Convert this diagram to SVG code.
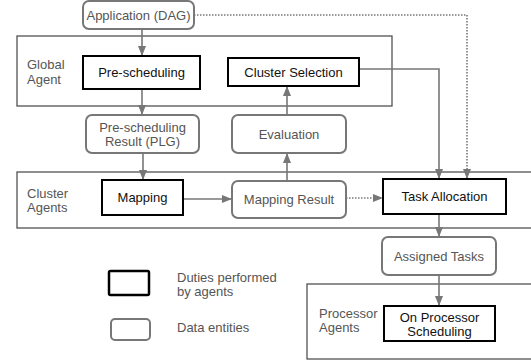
<svg xmlns="http://www.w3.org/2000/svg" width="531" height="360" viewBox="0 0 531 360">
  <style>
    text { font-family: "Liberation Sans", Arial, sans-serif; font-size: 13px; }
    .duty { fill: #fff; stroke: #000; stroke-width: 2; }
    .data { fill: #fff; stroke: #777; stroke-width: 2; }
    .zone { fill: #fff; stroke: #444; stroke-width: 1.2; }
    .dark { fill: #111; text-anchor: middle; }
    .grey { fill: #555; text-anchor: middle; }
    .lbl { fill: #555; }
    .link { fill: none; stroke: #777; stroke-width: 1.6; }
    .dot { fill: none; stroke: #777; stroke-width: 1.6; stroke-dasharray: 1.5 1.5; }
  </style>
  <defs>
    <marker id="head" markerUnits="userSpaceOnUse" markerWidth="10" markerHeight="8" refX="10" refY="4" orient="auto">
      <path d="M0,0 L10,4 L0,8 z" fill="#777"/>
    </marker>
  </defs>

  <rect width="531" height="360" fill="#fff"/>

  <!-- agent layers -->
  <g id="global-agent">
    <rect class="zone" x="17" y="36" width="375" height="70"/>
    <text class="lbl" x="27" y="69">Global</text>
    <text class="lbl" x="27" y="84">Agent</text>
  </g>
  <g id="cluster-agents">
    <rect class="zone" x="17" y="172" width="530" height="56"/>
    <text class="lbl" x="27" y="198">Cluster</text>
    <text class="lbl" x="27" y="212">Agents</text>
  </g>
  <g id="processor-agents">
    <rect class="zone" x="307" y="284" width="240" height="75"/>
    <text class="lbl" x="319" y="318">Processor</text>
    <text class="lbl" x="319" y="332">Agents</text>
  </g>

  <!-- connectors -->
  <g id="connectors">
    <line class="link" x1="142" y1="29" x2="142" y2="56" marker-end="url(#head)"/>
    <line class="link" x1="142" y1="89" x2="142" y2="115" marker-end="url(#head)"/>
    <line class="link" x1="143" y1="153" x2="143" y2="180" marker-end="url(#head)"/>
    <line class="link" x1="183" y1="199" x2="232" y2="199" marker-end="url(#head)"/>
    <line class="link" x1="287" y1="181" x2="287" y2="153" marker-end="url(#head)"/>
    <line class="link" x1="287" y1="115" x2="287" y2="86" marker-end="url(#head)"/>
    <line class="dot" x1="346" y1="198" x2="383" y2="198" marker-end="url(#head)"/>
    <polyline class="link" points="359,69 439,69 439,179" marker-end="url(#head)"/>
    <polyline class="dot" points="194,15 467,15 467,179" marker-end="url(#head)"/>
    <line class="link" x1="439" y1="214" x2="439" y2="237" marker-end="url(#head)"/>
    <line class="link" x1="439" y1="275" x2="439" y2="306" marker-end="url(#head)"/>
  </g>

  <!-- nodes -->
  <g id="application">
    <rect class="data" x="83" y="1" width="111" height="28" rx="6"/>
    <text class="grey" x="138.5" y="19.5">Application (DAG)</text>
  </g>
  <g id="pre-scheduling">
    <rect class="duty" x="83" y="56" width="117" height="33"/>
    <text class="dark" x="141.5" y="77">Pre-scheduling</text>
  </g>
  <g id="cluster-selection">
    <rect class="duty" x="228" y="58" width="131" height="28"/>
    <text class="dark" x="293.5" y="76.5">Cluster Selection</text>
  </g>
  <g id="pre-scheduling-result">
    <rect class="data" x="86" y="115" width="113" height="38" rx="6"/>
    <text class="grey" x="142.5" y="131.5">Pre-scheduling</text>
    <text class="grey" x="142.5" y="146">Result (PLG)</text>
  </g>
  <g id="evaluation">
    <rect class="data" x="232" y="115" width="114" height="38" rx="6"/>
    <text class="grey" x="289" y="138.5">Evaluation</text>
  </g>
  <g id="mapping">
    <rect class="duty" x="102" y="180" width="81" height="35"/>
    <text class="dark" x="142.5" y="202">Mapping</text>
  </g>
  <g id="mapping-result">
    <rect class="data" x="232" y="181" width="114" height="37" rx="6"/>
    <text class="grey" x="289" y="204">Mapping Result</text>
  </g>
  <g id="task-allocation">
    <rect class="duty" x="383" y="179" width="123" height="35"/>
    <text class="dark" x="444.5" y="201">Task Allocation</text>
  </g>
  <g id="assigned-tasks">
    <rect class="data" x="382" y="237" width="114" height="38" rx="6"/>
    <text class="grey" x="439" y="260.5">Assigned Tasks</text>
  </g>
  <g id="on-processor-scheduling">
    <rect class="duty" x="384" y="306" width="111" height="35"/>
    <text class="dark" x="439.5" y="321.5">On Processor</text>
    <text class="dark" x="439.5" y="336">Scheduling</text>
  </g>

  <!-- legend -->
  <g id="legend">
    <rect x="109" y="271" width="40" height="24" rx="1.5" fill="#fff" stroke="#000" stroke-width="2.5"/>
    <text class="lbl" x="177" y="282">Duties performed</text>
    <text class="lbl" x="177" y="296">by agents</text>
    <rect x="111" y="319" width="39" height="21" rx="4" fill="#fff" stroke="#777" stroke-width="2"/>
    <text class="lbl" x="177" y="332">Data entities</text>
  </g>
</svg>
